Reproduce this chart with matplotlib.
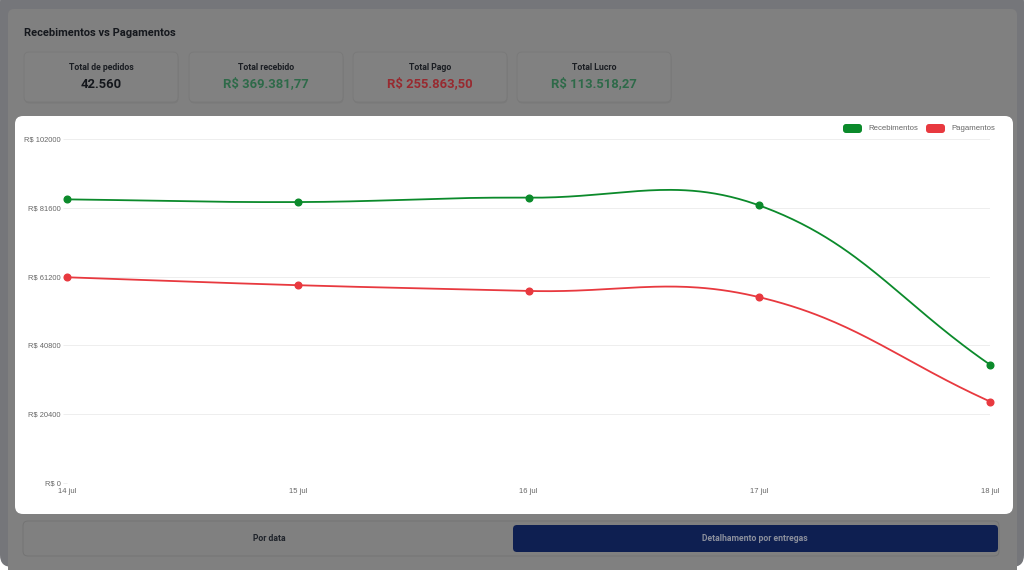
import numpy as np
import matplotlib.pyplot as plt
from matplotlib.patches import FancyBboxPatch

# dados
dias = ["14 jul", "15 jul", "16 jul", "17 jul", "18 jul"]
recebimentos = [84100, 83300, 84600, 82300, 35082]
pagamentos = [61000, 58650, 56950, 55100, 24163]
y_ticks = [0, 20400, 40800, 61200, 81600, 102000]

titulo = "Recebimentos vs Pagamentos"
card_labels = ["Total de pedidos", "Total recebido", "Total Pago", "Total Lucro"]
card_values = ["42.560", "R$ 369.381,77", "R$ 255.863,50", "R$ 113.518,27"]
botoes = ["Por data", "Detalhamento por entregas"]

GREEN = "#0b8a2b"
RED = "#e8393f"


def box(ax, x, y, w, h, r, fc, ec="none", lw=0.0, z=1):
    p = FancyBboxPatch((x, y), w, h, boxstyle=f"round,pad=0,rounding_size={r}",
                       fc=fc, ec=ec, lw=lw, zorder=z)
    ax.add_patch(p)


def spline(ax, xs, ys, tension=0.4, steps=60):
    # mesma curva do chart.js (splineCurve), calculada em pixels
    pts = ax.transData.transform(np.column_stack([xs, ys]))
    n = len(pts)
    cp_prev = np.zeros_like(pts)
    cp_next = np.zeros_like(pts)
    for i in range(n):
        p = pts[max(i - 1, 0)]
        c = pts[i]
        nx = pts[min(i + 1, n - 1)]
        d01 = np.hypot(*(c - p))
        d12 = np.hypot(*(nx - c))
        tot = d01 + d12
        s01 = d01 / tot if tot else 0
        s12 = d12 / tot if tot else 0
        cp_prev[i] = c - tension * s01 * (nx - p)
        cp_next[i] = c + tension * s12 * (nx - p)
    bb = ax.bbox
    for cp in (cp_prev, cp_next):
        cp[:, 0] = np.clip(cp[:, 0], bb.x0, bb.x1)
        cp[:, 1] = np.clip(cp[:, 1], bb.y0, bb.y1)
    t = np.linspace(0, 1, steps)[:, None]
    segs = []
    for i in range(n - 1):
        p0, p1, p2, p3 = pts[i], cp_next[i], cp_prev[i + 1], pts[i + 1]
        segs.append((1 - t) ** 3 * p0 + 3 * (1 - t) ** 2 * t * p1
                    + 3 * (1 - t) * t ** 2 * p2 + t ** 3 * p3)
    return ax.transData.inverted().transform(np.vstack(segs))


W, H = 1024, 570
fig = plt.figure(figsize=(W / 100, H / 100), dpi=100, facecolor="white")

# fundo (tela escurecida do dashboard)
bg = fig.add_axes([0, 0, 1, 1])
bg.set_xlim(0, W)
bg.set_ylim(H, 0)
bg.axis("off")

box(bg, 0, -10, 1024, 577, 12, "#75767a")
box(bg, 8, 9, 1009, 575, 6, "#808080")

bg.text(24, 33, titulo, fontsize=8, fontweight="bold", family="Roboto",
        color="#15181d", va="center", ha="left")

card_x = [24, 189, 353, 517]
card_colors = ["#14171c", "#2e6a49", "#982a30", "#2e6a49"]
for x, lab, val, col in zip(card_x, card_labels, card_values, card_colors):
    box(bg, x + 0.5, 53.5, 154, 50, 5, "#7a7a7a", z=1)
    box(bg, x, 52, 154, 50, 5, "#818181", ec="#797979", lw=0.6, z=2)
    bg.text(x + 77, 67, lab, fontsize=6.3, fontweight="bold", family="Roboto",
            color="#1b1e23", ha="center", va="center", zorder=3)
    bg.text(x + 77, 84, val, fontsize=9.4, fontweight="bold", family="Roboto",
            color=col, ha="center", va="center", zorder=3)

# cartao branco do grafico
box(bg, 15, 116, 998, 398, 8, "white", z=3)

# botoes inferiores
box(bg, 23, 521, 976, 35, 5, "#808080", ec="#747474", lw=0.7, z=2)
box(bg, 513, 525, 485, 27, 4, "#0e1f51", z=3)
bg.text(269, 538.5, botoes[0], fontsize=6.2, fontweight="bold", family="Roboto",
        color="#20242b", ha="center", va="center", zorder=4)
bg.text(755, 538.5, botoes[1], fontsize=6.2, fontweight="bold", family="Roboto",
        color="#8b8f9c", ha="center", va="center", zorder=4)

# legenda
leg = [("Recebimentos", GREEN, 843), ("Pagamentos", RED, 926)]
for nome, cor, lx in leg:
    box(bg, lx, 124, 19, 9, 3, cor, z=4)
    bg.text(lx + 25, 128.5, nome, fontsize=5.6, family="Liberation Sans",
            color="#666666", ha="left", va="center", zorder=4)

# eixo do grafico
ax = fig.add_axes([67 / W, (H - 483) / H, (990 - 67) / W, 344 / H])
ax.set_facecolor("none")
x = np.arange(len(dias))
ax.set_xlim(0, len(dias) - 1)
ax.set_ylim(y_ticks[0], y_ticks[-1])
ax.set_yticks(y_ticks)
ax.set_yticklabels([f"R$ {v}" for v in y_ticks])
ax.set_xticks(x)
ax.set_xticklabels(dias)
ax.grid(axis="y", color="#eeeeee", lw=0.7)
ax.grid(axis="x", visible=False)
for s in ax.spines.values():
    s.set_visible(False)
ax.tick_params(axis="y", length=3, color="#eeeeee", width=0.7, pad=1.5,
               labelsize=5.4, labelcolor="#666666")
ax.tick_params(axis="x", length=0, pad=3.5, labelsize=5.5, labelcolor="#666666")
for lab in ax.get_xticklabels() + ax.get_yticklabels():
    lab.set_family("Liberation Sans")

for serie, cor in [(recebimentos, GREEN), (pagamentos, RED)]:
    curva = spline(ax, x, serie)
    ax.plot(curva[:, 0], curva[:, 1], color=cor, lw=1.3, clip_on=False, zorder=3)
    ax.plot(x, serie, "o", color=cor, ms=4.8, clip_on=False, zorder=4)

fig.savefig("out.png", dpi=100, facecolor=fig.get_facecolor())
